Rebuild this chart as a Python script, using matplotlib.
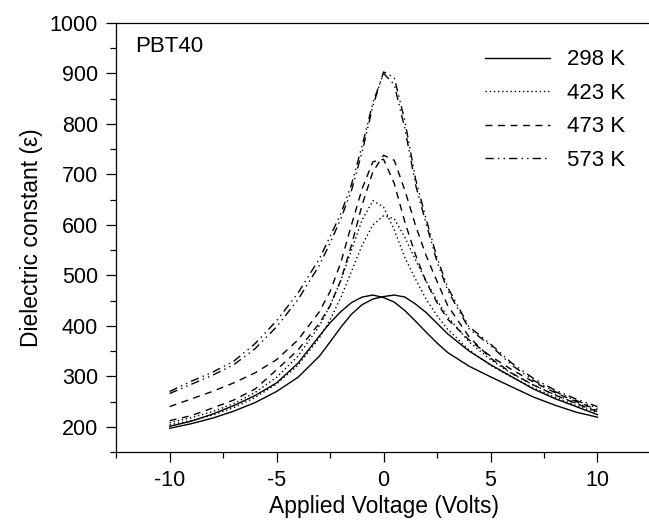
import matplotlib
matplotlib.use("Agg")
import matplotlib.pyplot as plt
from matplotlib.ticker import MultipleLocator

plt.rcParams['font.family'] = ['Liberation Sans', 'DejaVu Sans']
plt.rcParams['axes.unicode_minus'] = False

# Applied voltage grid (V)
voltage = [-10, -9, -8, -7, -6, -5, -4, -3, -2.5, -2, -1.5, -1, -0.5, 0,
           0.5, 1, 1.5, 2, 2.5, 3, 4, 5, 6, 7, 8, 9, 10]

# dielectric constant, two sweep branches per temperature
eps_298_a = [201, 211, 225, 242, 262, 287, 326, 380, 406, 428, 446, 457, 461, 456,
             447, 430, 409, 387, 366, 347, 320, 299, 279, 259, 243, 229, 219]
eps_298_b = [197, 206, 217, 231, 248, 270, 298, 340, 368, 397, 423, 442, 453, 458,
             461, 457, 443, 426, 405, 384, 350, 323, 299, 275, 256, 240, 224]

eps_423_a = [208, 218, 230, 246, 268, 298, 340, 400, 440, 490, 550, 610, 648, 635,
             590, 535, 492, 452, 420, 393, 352, 322, 298, 277, 259, 242, 228]
eps_423_b = [204, 212, 223, 238, 258, 285, 322, 376, 412, 456, 508, 560, 600, 618,
             612, 575, 530, 488, 450, 418, 368, 333, 305, 283, 264, 247, 232]

eps_473_a = [240, 255, 270, 287, 307, 333, 372, 428, 468, 525, 600, 672, 725, 730,
             682, 605, 540, 486, 446, 413, 372, 340, 313, 289, 268, 250, 234]
eps_473_b = [212, 222, 237, 253, 275, 313, 352, 405, 440, 490, 560, 640, 705, 738,
             728, 668, 598, 538, 488, 440, 378, 336, 306, 283, 263, 246, 230]

eps_573_a = [270, 290, 308, 330, 365, 410, 465, 533, 577, 622, 680, 757, 842, 900,
             878, 790, 679, 601, 527, 470, 394, 361, 322, 292, 270, 252, 237]
eps_573_b = [266, 284, 302, 323, 355, 398, 452, 520, 564, 612, 668, 745, 835, 903,
             892, 805, 690, 610, 535, 476, 398, 364, 326, 296, 273, 255, 240]

labels = ['298 K', '423 K', '473 K', '573 K']

fig = plt.figure(figsize=(6.49, 5.21), dpi=100)
ax = fig.add_axes([0.179, 0.1324, 0.824, 0.8235])

styles = ['-', (0, (1, 2)), (0, (5, 4)), (0, (6, 3, 1, 3, 1, 3))]
pairs = [(eps_298_a, eps_298_b), (eps_423_a, eps_423_b),
         (eps_473_a, eps_473_b), (eps_573_a, eps_573_b)]

for (ya, yb), ls, lab in zip(pairs, styles, labels):
    ax.plot(voltage, ya, color='black', linestyle=ls, linewidth=1.0, label=lab)
    ax.plot(voltage, yb, color='black', linestyle=ls, linewidth=1.0)

ax.set_xlim(-12.5, 12.5)
ax.set_ylim(150, 1000)
ax.set_xticks([-10, -5, 0, 5, 10])
ax.set_yticks(range(200, 1001, 100))
ax.xaxis.set_minor_locator(MultipleLocator(2.5))
ax.yaxis.set_minor_locator(MultipleLocator(50))
ax.tick_params(which='major', direction='out', length=7, width=0.9, labelsize=15.5, pad=6)
ax.tick_params(which='minor', direction='out', length=4, width=0.9)
ax.spines['right'].set_visible(False)
for s in ['left', 'top', 'bottom']:
    ax.spines[s].set_linewidth(0.9)

ax.set_xlabel('Applied Voltage (Volts)', fontsize=16.5, labelpad=3)
ax.set_ylabel('Dielectric constant (ε)', fontsize=16.5, labelpad=5)

ax.text(0.036, 0.945, 'PBT40', transform=ax.transAxes, fontsize=16, va='center', ha='left')

ax.legend(loc='upper right', bbox_to_anchor=(0.99, 0.985), frameon=False, fontsize=16,
          handlelength=2.9, handletextpad=0.8, labelspacing=0.56)

fig.savefig('out.png', dpi=100)
